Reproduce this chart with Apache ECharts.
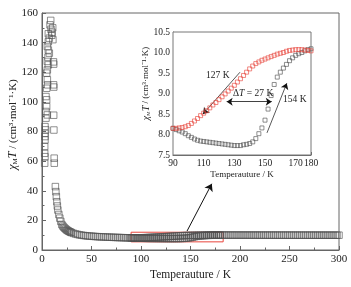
<!DOCTYPE html>
<html><head><meta charset="utf-8">
<script src="https://cdn.jsdelivr.net/npm/echarts@6/dist/echarts.min.js"></script>
<style>html,body{margin:0;padding:0;background:#fff}#c{width:351px;height:287px}</style>
</head><body><div id="c"></div>
<script>
// ---- data ----
const lowT = [8.8,8.1,9.1,6.4,9.8,7.4,6.4,5.4,6.4,7.4,6.1,5.4,6.4,5.4,4.7,5.4,5.7,4.7,4.0,4.7,4.7,4.0,5.4,4.0,3.0,3.7,3.0,3.0,3.0,2.7,2.7,3.0,2.7,10.8,10.2,11.0,11.6,11.8,11.7,11.9,11.8,12.0,12.3,12.4];
const lowV = [155,152,149,146,145,143,140.6,137.4,135,132.9,130.2,127.3,125,121.6,119.4,114.9,111.5,109.2,103.6,101.4,96.8,93.5,91.2,89,83.3,81.1,78.8,76.6,74.3,69.8,65.3,63,58.6,150,147,142,127,125.5,111.5,110,91,81,62,58.6];
const decayT = [13.5,14,14.5,15,15.5,16,17,18,19,20,21,22,23,24,25,26,27,28,29,30,32,34,36,38,40,42,44,46,48,50,52,54,56,58,60,62,64,66,68,70,72,74,76,78,80,82,84,86,88];
const decayV = [42.8,39.4,36,32.6,29.7,27,24,21.5,19.3,17.2,16.2,15.4,14.7,14.1,13.5,13.1,12.7,12.3,12.0,11.7,11.2,10.8,10.5,10.2,10.0,9.8,9.65,9.5,9.4,9.3,9.2,9.1,9.0,8.95,8.88,8.82,8.76,8.7,8.65,8.6,8.55,8.5,8.45,8.4,8.36,8.32,8.27,8.22,8.18];
const loopT = [90,92,94,96,98,100,102,104,106,108,110,112,114,116,118,120,122,124,126,128,130,132,134,136,138,140,142,144,146,148,150,152,154,156,158,160,162,164,166,168,170,172,174,176,178,180];
const coolingV = [8.15,8.15,8.16,8.17,8.19,8.22,8.27,8.33,8.39,8.46,8.52,8.58,8.65,8.72,8.78,8.85,8.92,8.99,9.06,9.13,9.20,9.28,9.36,9.44,9.52,9.60,9.67,9.73,9.77,9.81,9.84,9.87,9.90,9.93,9.96,9.98,10.00,10.03,10.05,10.06,10.07,10.07,10.07,10.06,10.05,10.04];
const heatingV = [8.15,8.12,8.09,8.06,8.02,7.97,7.93,7.89,7.86,7.84,7.83,7.82,7.81,7.80,7.79,7.78,7.77,7.76,7.75,7.74,7.73,7.73,7.73,7.75,7.76,7.78,7.82,7.90,8.02,8.16,8.35,8.62,8.95,9.22,9.40,9.52,9.62,9.71,9.80,9.87,9.93,9.97,10.00,10.04,10.07,10.09];
const highT = [182,184,186,188,190,192,194,196,198,200,202,204,206,208,210,212,214,216,218,220,222,224,226,228,230,232,234,236,238,240,242,244,246,248,250,252,254,256,258,260,262,264,266,268,270,272,274,276,278,280,282,284,286,288,290,292,294,296,298,300];
const highV = [10.08,10.07,10.08,10.07,10.06,10.07,10.06,10.07,10.06,10.06,10.05,10.06,10.05,10.06,10.05,10.05,10.04,10.05,10.05,10.04,10.05,10.04,10.04,10.05,10.04,10.04,10.03,10.04,10.04,10.03,10.04,10.03,10.03,10.04,10.03,10.03,10.02,10.03,10.03,10.02,10.03,10.02,10.02,10.03,10.02,10.02,10.01,10.02,10.02,10.01,10.02,10.01,10.01,10.02,10.01,10.01,10.00,10.01,10.01,10.00];
const insetXLabels = [90,110,130,150,170,180];

const zip = (a,b) => a.map((t,i) => [t,b[i]]);
const SERIF = 'Liberation Serif';
const RED = '#e8453c';
const DARK = '#505050';

const chart = echarts.init(document.getElementById('c'), null, {renderer:'canvas'});

function axisCommon(fs){
  return {
    axisLine:{lineStyle:{color:'#666',width:1}},
    axisTick:{inside:true,length:4,lineStyle:{color:'#666'}},
    axisLabel:{fontFamily:SERIF,fontSize:fs,color:'#222',margin:4},
    splitLine:{show:false},
    nameLocation:'middle',
    nameMoveOverlap:false,
    nameTextStyle:{fontFamily:SERIF,fontSize:fs,color:'#222'}
  };
}
const yName = '{i|χ}{s|M}{i|T}{n| / (cm³·mol⁻¹·K)}';
function yRich(fs){
  return {
    i:{fontFamily:SERIF,fontStyle:'italic',fontSize:fs+1,color:'#222'},
    s:{fontFamily:SERIF,fontSize:fs-4,color:'#222',padding:[fs*0.5,0,0,0]},
    n:{fontFamily:SERIF,fontSize:fs,color:'#222'}
  };
}

const mainSym = {symbol:'rect',symbolSize:6.5,itemStyle:{color:'transparent',borderColor:DARK,borderWidth:0.8}};

const option = {
  animation:false,
  backgroundColor:'#fff',
  grid:[
    {left:42,right:12,top:13,bottom:37,show:true,borderColor:'#666',borderWidth:1,backgroundColor:'transparent',outerBoundsMode:'none',containLabel:false},
    {left:173,right:40,top:32,bottom:132,show:true,borderColor:'#777',borderWidth:1,backgroundColor:'#fff',z:5,outerBoundsMode:'none',containLabel:false}
  ],
  xAxis:[
    Object.assign(axisCommon(11),{gridIndex:0,type:'value',min:0,max:300,interval:50,
      minorTick:{show:true,splitNumber:2,length:2.5,lineStyle:{color:'#666'}},
      name:'Temperauture / K',nameGap:19,
      nameTextStyle:{fontFamily:SERIF,fontSize:11.5,color:'#222'}}),
    Object.assign(axisCommon(9.5),{gridIndex:1,type:'value',min:90,max:180,interval:10,
      axisTick:{inside:true,length:3,lineStyle:{color:'#666'}},
      axisLabel:{fontFamily:SERIF,fontSize:9.5,color:'#222',margin:3,showMaxLabel:true,
        formatter:v => insetXLabels.indexOf(v) >= 0 ? String(v) : ''},
      name:'Temperauture / K',nameGap:15,
      nameTextStyle:{fontFamily:SERIF,fontSize:9,color:'#222'}})
  ],
  yAxis:[
    Object.assign(axisCommon(11),{gridIndex:0,type:'value',min:0,max:160,interval:20,
      minorTick:{show:true,splitNumber:2,length:2.5,lineStyle:{color:'#666'}},
      name:yName,nameGap:23,nameRotate:90,
      nameTextStyle:{rich:yRich(11),padding:[0,0,0,14]}}),
    Object.assign(axisCommon(9.5),{gridIndex:1,type:'value',min:7.5,max:10.5,interval:0.5,
      axisTick:{inside:true,length:3,lineStyle:{color:'#666'}},
      axisLabel:{fontFamily:SERIF,fontSize:9.5,color:'#222',margin:3,formatter:v => v.toFixed(1)},
      name:yName,nameGap:22,nameRotate:90,
      nameTextStyle:{rich:yRich(9),padding:[0,0,0,20]}})
  ],
  series:[
    Object.assign({type:'scatter',xAxisIndex:0,yAxisIndex:0,data:zip(lowT,lowV)},mainSym),
    Object.assign({type:'scatter',xAxisIndex:0,yAxisIndex:0,data:zip(decayT,decayV)},mainSym),
    Object.assign({type:'scatter',xAxisIndex:0,yAxisIndex:0,data:zip(loopT,coolingV)},mainSym),
    Object.assign({type:'scatter',xAxisIndex:0,yAxisIndex:0,data:zip(loopT,heatingV),
      markArea:{silent:true,itemStyle:{color:'transparent',borderColor:RED,borderWidth:1},
        data:[[{coord:[90,5.5]},{coord:[183,12]}]]},
      markLine:{silent:true,symbol:['none','arrow'],symbolSize:7,
        lineStyle:{color:'#111',width:1,type:'solid'},label:{show:false},
        data:[[{coord:[146.5,12.8]},{coord:[171.5,44.7]}]]}},mainSym),
    Object.assign({type:'scatter',xAxisIndex:0,yAxisIndex:0,data:zip(highT,highV)},mainSym),
    {type:'scatter',xAxisIndex:1,yAxisIndex:1,z:6,symbol:'rect',symbolSize:4,
      itemStyle:{color:'transparent',borderColor:DARK,borderWidth:0.8},
      data:zip(loopT,heatingV),
      markLine:{silent:true,symbol:['none','arrow'],symbolSize:6,
        lineStyle:{color:'#111',width:0.7,type:'solid'},label:{show:false},
        data:[[{coord:[133.7,9.52]},{coord:[109.6,8.5]}],[{coord:[151.3,8.04]},{coord:[164.2,9.25]}]]}},
    {type:'scatter',xAxisIndex:1,yAxisIndex:1,z:6,symbol:'rect',symbolSize:4,
      itemStyle:{color:'transparent',borderColor:RED,borderWidth:0.8},
      data:zip(loopT,coolingV),
      markLine:{silent:true,symbol:['arrow','arrow'],symbolSize:6,
        lineStyle:{color:'#111',width:0.8,type:'solid'},label:{show:false},
        data:[[{coord:[125,8.8]},{coord:[154.4,8.8]}]]}}
  ],
  graphic:[
    {type:'text',z:100,left:206,top:70,style:{text:'127 K',fontFamily:SERIF,fontSize:9.5,fill:'#222'}},
    {type:'text',z:100,left:233,top:88,style:{text:'{a|Δ}{i|T}{a| = 27 K}',
      rich:{a:{fontFamily:SERIF,fontSize:9.5,fill:'#222'},i:{fontFamily:SERIF,fontStyle:'italic',fontSize:9.5,fill:'#222'}}}},
    {type:'text',z:100,left:283,top:94,style:{text:'154 K',fontFamily:SERIF,fontSize:9.5,fill:'#222'}}
  ]
};
chart.setOption(option);
</script></body></html>
